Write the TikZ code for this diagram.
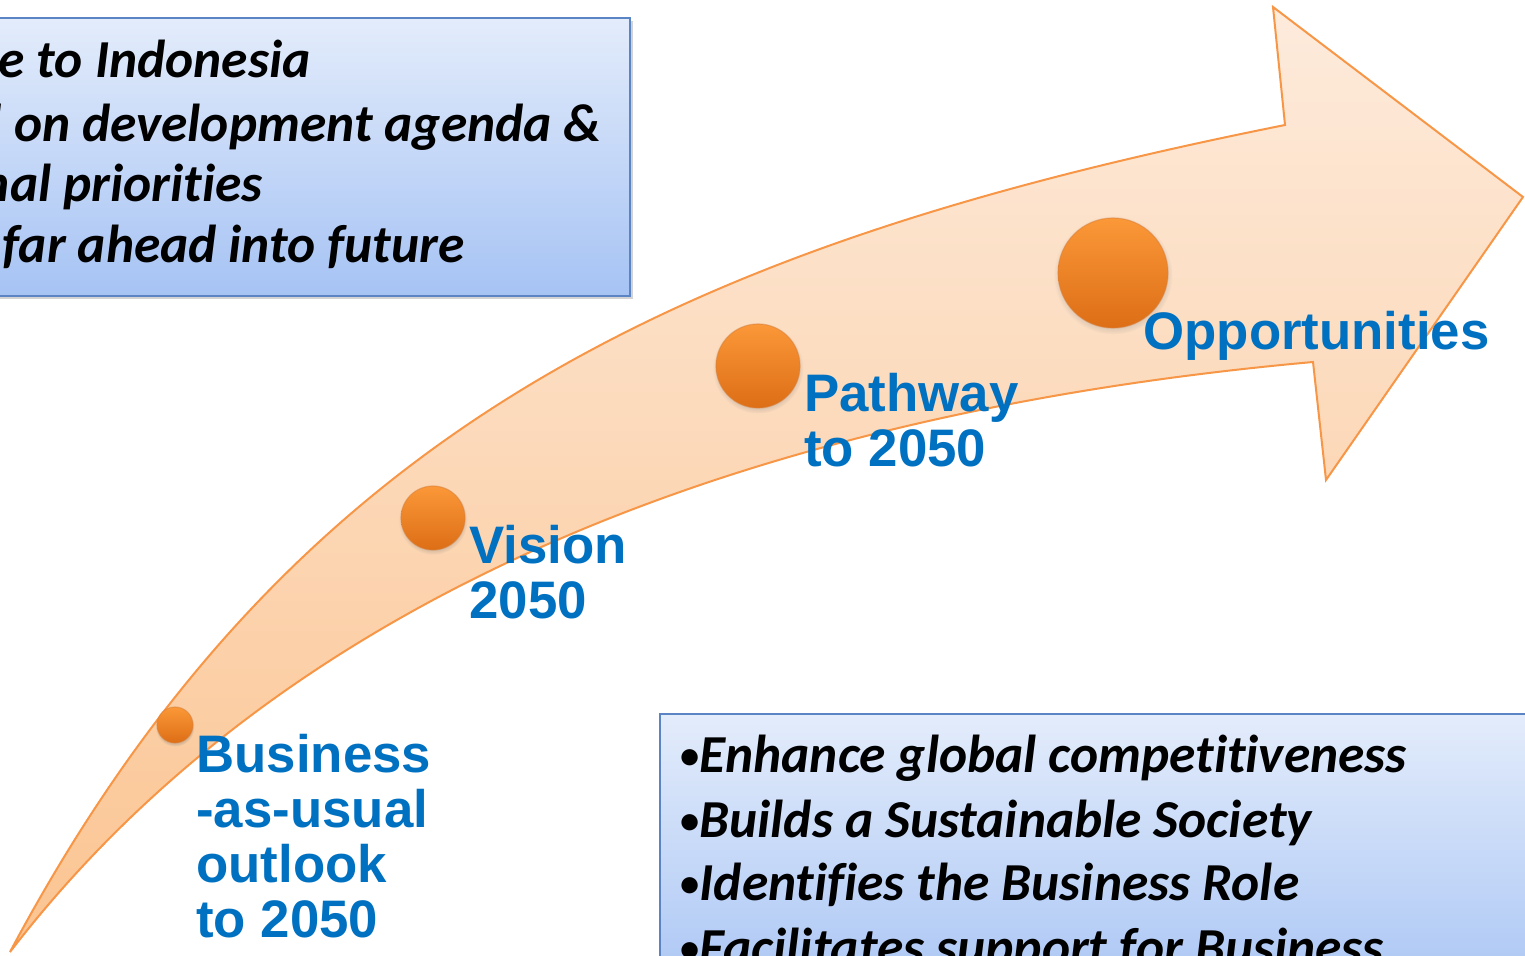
\documentclass[tikz,border=0pt]{standalone}
\usepackage{fontspec}
\setmainfont{Liberation Sans}
\newfontfamily\boxfont[Ligatures=NoCommon]{Carlito}
\usetikzlibrary{shadows}
\definecolor{arrowline}{HTML}{F79646}
\definecolor{arrowtop}{HTML}{FDEBDC}
\definecolor{arrowbot}{HTML}{FBC491}
\definecolor{lblblue}{HTML}{0070C0}
\definecolor{boxtop}{HTML}{E3ECFB}
\definecolor{boxbot}{HTML}{A6C3F4}
\definecolor{boxline}{HTML}{5B84C4}
\definecolor{dottop}{HTML}{FB9838}
\definecolor{dotbot}{HTML}{DD6E16}
\definecolor{dotrim}{HTML}{D9803A}
\newcommand\mybullet{\raisebox{0.06em}{\scalebox{0.72}{\upshape •}}}
\begin{document}
\begin{tikzpicture}[x=0.5pt,y=-0.5pt,
  lbl/.style={font=\bfseries\fontsize{26.4}{27.5}\selectfont, text=lblblue, align=left, inner sep=0pt, anchor=base west},
  btxt/.style={font=\boxfont\bfseries\itshape\fontsize{26.7}{32}\selectfont, text=black, inner sep=0pt},
  infobox/.style={draw=boxline, line width=1pt, top color=boxtop, bottom color=boxbot,
    drop shadow={opacity=0.35, shadow xshift=1.5pt, shadow yshift=-1.5pt}},
  dot/.style={circle, inner sep=0pt, top color=dottop, bottom color=dotbot,
    draw=dotrim, draw opacity=0.5, line width=0.6pt,
    circular drop shadow={opacity=0.3, shadow xshift=0pt, shadow yshift=-1pt, shadow scale=1.08}},
  arrowbody/.style={draw=arrowline, line width=1pt, top color=arrowtop, bottom color=arrowbot}]
\useasboundingbox (0,0) rectangle (1525,956);
\begin{scope}
\clip (0,0) rectangle (1525,956);
% big curved arrow
\coordinate (tail) at (10,952);
\coordinate (notchU) at (1285,125);
\coordinate (headT) at (1273,7);
\coordinate (tip) at (1523,197);
\coordinate (headB) at (1326,480);
\coordinate (notchL) at (1313,362);
\path[arrowbody]
  (tail) .. controls (290,426) and (685,245) .. (notchU)
  -- (headT) -- (tip) -- (headB) -- (notchL)
  .. controls (813,407) and (310,562) .. (tail) -- cycle;
% top info box
\node[infobox, minimum width=640pt*0.5, minimum height=278pt*0.5, inner sep=0pt] (topbox) at (310,157) {};
\node[btxt, anchor=base east] (t1) at (311,78) {e to Indonesia};
\node[btxt, anchor=base east] (t2) at (602,142) {d on development agenda \&};
\node[btxt, anchor=base east] (t3) at (263,202) {nal priorities};
\node[btxt, anchor=base east] (t4) at (465,263) {far ahead into future};
% bottom info box
\node[infobox, minimum width=900pt*0.5, minimum height=300pt*0.5, inner sep=0pt] (botbox) at (1110,864) {};
\node[btxt, anchor=base west] (b1) at (680,772) {\mybullet Enhance global competitiveness};
\node[btxt, anchor=base west] (b2) at (680,837) {\mybullet Builds a Sustainable Society};
\node[btxt, anchor=base west] (b3) at (680,900) {\mybullet Identifies the Business Role};
\node[btxt, anchor=base west] (b4) at (680,965) {\mybullet Facilitates support for Business};
% dots
\node[dot, minimum size=18pt] (d1) at (175,725) {};
\node[dot, minimum size=32pt] (d2) at (433,518) {};
\node[dot, minimum size=42pt] (d3) at (758,366) {};
\node[dot, minimum size=55pt] (d4) at (1113,273) {};
% labels (anchored at the baseline of the last line)
\node[lbl] (bau) at (196,937) {Business\\-as-usual\\outlook\\to 2050};
\node[lbl] (vis) at (469,618) {Vision\\2050};
\node[lbl] (pth) at (804,467) {Pathway\\to 2050};
\node[lbl] (opp) at (1143,350) {Opportunities};
\end{scope}
\end{tikzpicture}
\end{document}
